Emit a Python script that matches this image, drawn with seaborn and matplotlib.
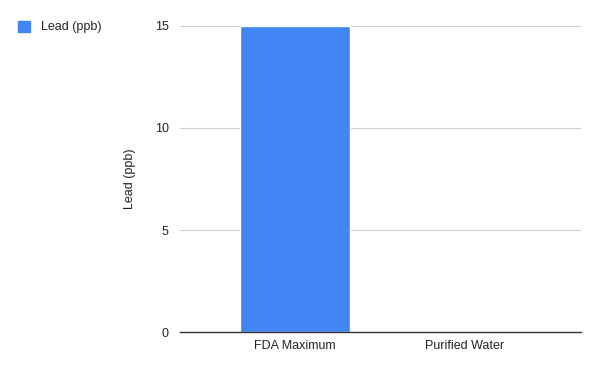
import matplotlib
matplotlib.use("Agg")
import matplotlib.pyplot as plt
import matplotlib.patches as mpatches
import seaborn as sns
import pandas as pd

# datos del gráfico
categorias = ["FDA Maximum", "Purified Water"]
plomo_ppb = [15, 0]
ticks_y = [0, 5, 10, 15]

df = pd.DataFrame({"categoria": categorias, "plomo": plomo_ppb})

sns.set_theme(style="white")
plt.rcParams["font.family"] = ["Liberation Sans", "DejaVu Sans"]

azul = "#4285f4"

fig = plt.figure(figsize=(6, 3.71), dpi=100)
ax = fig.add_axes([0.30, 0.105, 0.668, 0.825])

sns.barplot(data=df, x="categoria", y="plomo", color=azul, width=0.65,
            saturation=1, ax=ax, zorder=2)

ax.set_xlim(-0.676, 1.683)
ax.set_ylim(0, 15)
ax.set_yticks(ticks_y)
ax.yaxis.grid(True, color="#cccccc", linewidth=0.8, zorder=0)
ax.set_axisbelow(True)
for lado in ["top", "right", "left"]:
    ax.spines[lado].set_visible(False)
ax.spines["bottom"].set_color("#333333")
ax.spines["bottom"].set_linewidth(1)
ax.tick_params(axis="both", length=0, labelsize=9, colors="#222222")
ax.tick_params(axis="y", pad=8)
ax.tick_params(axis="x", pad=6)
ax.set_xlabel("")
ax.set_ylabel("Lead (ppb)", fontsize=9, color="#222222", labelpad=13.5)

parche = mpatches.Patch(color=azul, label="Lead (ppb)")
fig.legend(handles=[parche], loc="upper left", bbox_to_anchor=(0.012, 0.975),
           frameon=False, fontsize=9, handlelength=0.9, handleheight=1.0,
           handletextpad=0.9)

fig.savefig("out.png", dpi=100)
